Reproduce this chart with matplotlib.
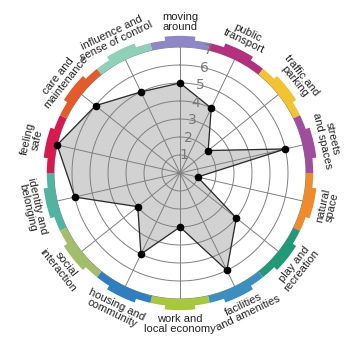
import numpy as np
import matplotlib.pyplot as plt

# categories (clockwise from the top) and scores
categories = ['moving\naround', 'public\ntransport', 'traffic and\nparking', 'streets\nand spaces',
              'natural\nspace', 'play and\nrecreation', 'facilities\nand amenities',
              'work and\nlocal economy', 'housing and\ncommunity', 'social\ninteraction',
              'identity and\nbelonging', 'feeling\nsafe', 'care and\nmaintenance',
              'influence and\nsense of control']
scores = [5, 4, 2, 6, 1, 4, 6, 3, 5, 3, 6, 7, 6, 5]
ring_colors = ['#8f86c9', '#b4307f', '#f3c22f', '#a04d9e', '#ee8b2d', '#1f9a76', '#3a8fbf',
               '#a6c83a', '#2f7ec0', '#a2bd6c', '#52b4a0', '#d6194f', '#e55a2a', '#8fd1b8']
rticks = [1, 2, 3, 4, 5, 6, 7]

n = len(categories)
theta = np.arange(n) * 2 * np.pi / n
step = 2 * np.pi / n

fig = plt.figure(figsize=(3.6, 3.56), dpi=100)
R = 9.5
ax = fig.add_axes([0.025, 0.0337, 0.95, 0.9607], projection='polar')
ax.set_theta_zero_location('N')
ax.set_theta_direction(-1)
ax.set_ylim(0, R)
ax.axis('off')

# grid circles and spokes
t = np.linspace(0, 2 * np.pi, 400)
for r in rticks:
    ax.plot(t, np.full_like(t, r), color='#808080', lw=0.7, zorder=2)
for a in theta:
    ax.plot([a, a], [0, 7], color='#808080', lw=0.7, zorder=2)

# data polygon
tt = np.append(theta, theta[0])
ss = np.append(scores, scores[0])
ax.fill(tt, ss, color='#d2d2d2', zorder=1)
ax.plot(tt, ss, color='#2a2a2a', lw=0.9, zorder=3)
ax.plot(theta, scores, 'o', color='black', ms=4.5, zorder=4)

# coloured outer ring
ax.bar(theta, 0.4, width=step, bottom=7.0, color=ring_colors, linewidth=0, zorder=3)
ax.bar(theta, 0.62, width=step * 0.5, bottom=7.0, color=ring_colors, linewidth=0, zorder=3)

# radial labels
for r in rticks:
    ax.text(step / 2, r, str(r), color='#787878', fontsize=10, ha='center', va='center',
            zorder=5)

# category labels
for a, lab in zip(theta, categories):
    deg = np.degrees(a)
    if 90 < deg < 270:
        rot = 180 - deg
    else:
        rot = -deg
    ax.text(a, 8.4, lab, fontsize=8, family='Liberation Sans', color='#222222',
            ha='center', va='center', rotation=rot, rotation_mode='anchor',
            linespacing=0.95, multialignment='center')

fig.savefig('out.png', dpi=100)
